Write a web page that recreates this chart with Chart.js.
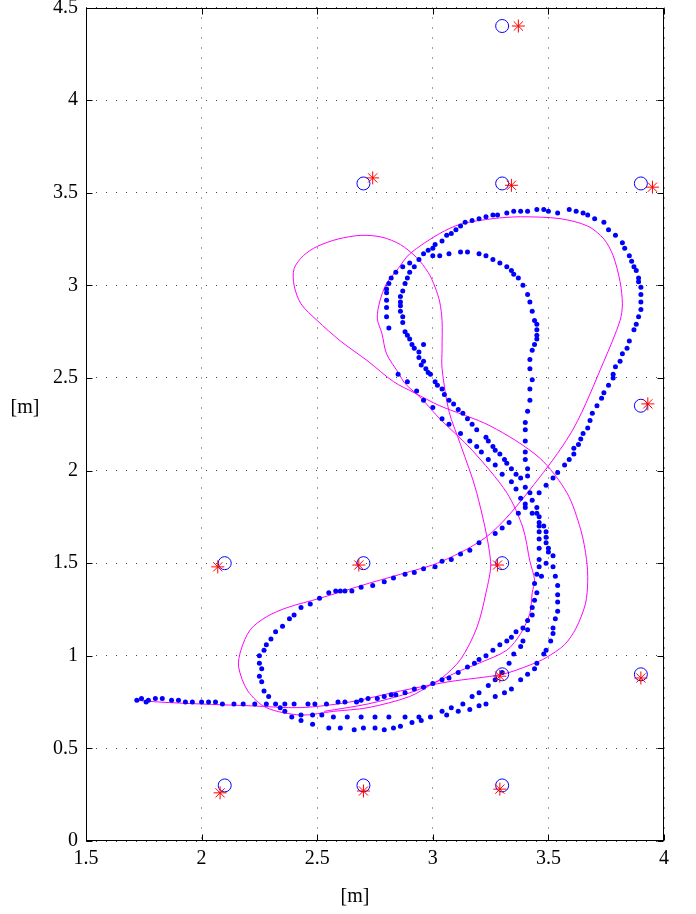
<!DOCTYPE html>
<html>
<head>
<meta charset="utf-8">
<script src="https://cdn.jsdelivr.net/npm/chart.js@4.4.1/dist/chart.umd.min.js"></script>
<style>
  html, body { margin: 0; padding: 0; background: #fff; }
  canvas { display: block; }
</style>
</head>
<body>
<canvas id="chart" width="696" height="914"></canvas>
<script>
/* ============ anchors, estimates and the tracked path ============ */

const xTicks = [1.5, 2, 2.5, 3, 3.5, 4];
const yTicks = [0, 0.5, 1, 1.5, 2, 2.5, 3, 3.5, 4, 4.5];
const axisTitle = '[m]';

// true anchor positions (blue circles)
const anchors = [
    [2.1, 0.3], [2.7, 0.3], [3.3, 0.3],
    [2.1, 1.5], [2.7, 1.5], [3.3, 1.5],
    [3.3, 0.9], [3.9, 0.9], [3.9, 2.35],
    [2.7, 3.55], [3.3, 3.55], [3.9, 3.55], [3.3, 4.4]
];

// estimated anchor positions (red stars)
const estimates = [
    [2.08, 0.26], [2.70, 0.27], [3.29, 0.28],
    [2.07, 1.48], [2.68, 1.49], [3.28, 1.49],
    [3.29, 0.89], [3.90, 0.88], [3.93, 2.36],
    [2.74, 3.58], [3.34, 3.54], [3.95, 3.53], [3.37, 4.40]
];

// measured positions (blue dots)
const trackDots = [
    // start row
    [1.72,0.76],[1.74,0.77],[1.76,0.75],[1.77,0.76],[1.80,0.77],[1.83,0.77],[1.87,0.76],[1.90,0.76],
    [1.93,0.75],[1.96,0.75],[2.00,0.75],[2.03,0.75],[2.06,0.75],[2.09,0.74],[2.14,0.74],[2.18,0.74],
    [2.23,0.74],[2.28,0.74],[2.32,0.74],[2.36,0.74],[2.40,0.74],[2.46,0.74],[2.49,0.74],
    [2.54,0.74],[2.59,0.75],[2.62,0.75],[2.67,0.75],[2.69,0.76],[2.72,0.77],[2.76,0.77],[2.79,0.78],
    [2.82,0.79],[2.84,0.79],[2.88,0.80],[2.92,0.82],[2.96,0.83],[3.00,0.85],[3.04,0.87],[3.07,0.88],
    [3.11,0.91],[3.15,0.94],[3.18,0.96],[3.20,0.98],[3.23,1.00],[3.26,1.03],[3.29,1.06],[3.32,1.08],
    [3.34,1.10],[3.36,1.13],[3.39,1.15],[3.41,1.19],[3.43,1.22],[3.43,1.26],[3.44,1.30],[3.45,1.34],
    [3.44,1.39],[3.45,1.44],[3.47,1.43],[3.46,1.48],[3.49,1.50],
    // lower left loop
    [2.47,1.28],[2.43,1.26],[2.40,1.22],[2.38,1.20],[2.35,1.16],[2.32,1.13],[2.30,1.09],[2.28,1.06],
    [2.27,1.03],[2.25,1.00],[2.25,0.96],[2.26,0.93],[2.25,0.89],[2.26,0.86],[2.27,0.81],[2.29,0.78],
    [2.34,0.72],[2.36,0.70],[2.39,0.67],[2.43,0.65],[2.48,0.63],[2.43,0.68],[2.48,0.68],
    // long diagonal and outer right loop
    [2.51,1.31],[2.55,1.34],[2.58,1.35],[2.60,1.35],[2.62,1.35],[2.65,1.35],[2.69,1.37],[2.74,1.38],
    [2.79,1.40],[2.83,1.42],[2.88,1.44],[2.92,1.45],[2.96,1.47],[3.01,1.48],[3.04,1.51],[3.08,1.52],
    [3.12,1.55],[3.16,1.57],[3.20,1.61],[3.27,1.66],[3.30,1.69],[3.33,1.72],[3.37,1.77],[3.40,1.80],
    [3.43,1.84],[3.46,1.88],[3.49,1.92],[3.52,1.96],[3.54,1.99],[3.57,2.03],[3.59,2.06],[3.61,2.09],
    [3.61,2.12],[3.63,2.14],[3.64,2.17],[3.65,2.20],[3.67,2.23],[3.68,2.27],[3.69,2.31],[3.71,2.35],
    [3.73,2.39],[3.74,2.42],[3.76,2.46],[3.78,2.50],[3.78,2.52],[3.79,2.56],[3.81,2.59],[3.82,2.63],
    [3.84,2.66],[3.85,2.70],[3.87,2.76],[3.88,2.79],[3.89,2.83],[3.90,2.87],[3.90,2.91],[3.90,2.95],
    [3.90,2.99],[3.89,3.02],[3.89,3.04],[3.88,3.08],[3.87,3.10],[3.86,3.13],[3.85,3.16],[3.83,3.20],
    [3.82,3.23],[3.79,3.27],[3.76,3.30],[3.74,3.34],[3.70,3.36],[3.67,3.38],[3.65,3.39],[3.62,3.40],
    [3.59,3.41],[3.54,3.39],[3.50,3.40],[3.48,3.41],[3.45,3.41],[3.41,3.40],[3.38,3.40],[3.35,3.40],
    [3.32,3.39],[3.28,3.38],[3.26,3.38],[3.23,3.37],[3.20,3.36],[3.17,3.35],[3.14,3.34],[3.12,3.32],
    [3.10,3.30],[3.08,3.28],[3.06,3.27],[3.04,3.24],[3.01,3.22],[3.00,3.20],[2.98,3.19],[2.96,3.17],
    [2.90,3.12],[2.87,3.10],[2.84,3.07],[2.82,3.04],[2.81,3.01],[2.80,2.98],[2.80,2.96],[2.80,2.92],
    [2.80,2.88],[2.80,2.83],[2.81,2.77],
    // inner loop
    [3.43,2.49],[3.42,2.55],[3.42,2.60],[3.43,2.65],[3.44,2.68],[3.45,2.71],[3.45,2.73],[3.45,2.76],
    [3.45,2.79],[3.44,2.81],[3.43,2.86],[3.42,2.91],[3.41,2.95],[3.39,3.00],[3.37,3.04],[3.35,3.06],
    [3.34,3.08],[3.32,3.10],[3.29,3.12],[3.26,3.14],[3.23,3.16],[3.20,3.17],[3.15,3.18],[3.12,3.18],
    [3.07,3.17],[3.03,3.16],[3.00,3.16],[2.94,3.14],[2.92,3.10],[2.90,3.07],[2.89,3.04],[2.88,3.01],
    [2.87,2.97],[2.86,2.94],[2.86,2.91],[2.86,2.89],[2.86,2.86],[2.87,2.83],[2.87,2.80],[2.88,2.75],
    [2.89,2.73],[2.90,2.71],[2.91,2.68],[2.92,2.66],[2.94,2.64],[2.94,2.61],[2.96,2.59],[2.95,2.57],
    [2.97,2.55],[2.98,2.53],[2.99,2.52],[3.01,2.48],[3.02,2.46],[3.04,2.44],[3.05,2.41],[3.07,2.38],
    [3.09,2.36],[3.11,2.33],[3.13,2.31],[3.15,2.28],[3.17,2.25],[3.19,2.22],[3.23,2.18],[3.24,2.16],
    [3.26,2.13],[3.27,2.11],[3.29,2.09],[3.31,2.06],[3.32,2.04],[3.34,2.01],[3.36,1.98],[3.38,1.96],
    [3.40,1.91],[3.42,1.88],
    [2.96,2.68],[2.85,2.52],
    // second diagonal
    [2.89,2.48],[2.93,2.43],[2.96,2.38],[3.00,2.34],[3.04,2.28],[3.07,2.25],[3.12,2.20],[3.16,2.16],
    [3.19,2.13],[3.21,2.10],[3.24,2.06],[3.27,2.03],[3.30,1.98],[3.34,1.94],[3.36,1.90],[3.38,1.85],
    // central column
    [3.42,2.44],[3.42,2.38],[3.41,2.32],[3.40,2.26],[3.40,2.22],[3.40,2.16],[3.40,2.10],[3.40,2.06],
    [3.41,2.01],[3.41,1.97],[3.40,1.82],[3.45,1.80],[3.43,1.77],[3.45,1.77],[3.46,1.75],[3.46,1.72],
    [3.46,1.70],[3.48,1.70],[3.46,1.67],[3.49,1.67],[3.49,1.64],[3.46,1.63],[3.49,1.61],[3.50,1.58],
    [3.46,1.58],[3.50,1.56],[3.52,1.54],[3.46,1.52],
    // right column
    [3.52,1.48],[3.53,1.43],[3.54,1.38],[3.54,1.33],[3.54,1.29],[3.54,1.24],[3.53,1.20],[3.52,1.15],
    [3.52,1.12],[3.51,1.08],[3.49,1.03],[3.48,1.01],[3.45,0.96],[3.44,0.93],[3.41,0.90],[3.38,0.87],
    [3.34,0.82],[3.31,0.80],[3.27,0.78],[3.23,0.74],[3.20,0.73],[3.16,0.71],[3.11,0.70],[3.06,0.68],
    // middle column
    [3.41,1.14],[3.39,1.08],[3.38,1.05],[3.35,1.01],[3.33,0.96],[3.30,0.91],[3.27,0.87],[3.24,0.84],
    [3.20,0.80],[3.17,0.78],[3.13,0.74],[3.08,0.72],[3.04,0.70],
    // bottom rows
    [2.52,0.68],[2.57,0.67],[2.63,0.67],[2.69,0.67],[2.75,0.67],[2.81,0.67],[2.88,0.67],[2.94,0.67],
    [2.99,0.67],
    [2.55,0.61],[2.60,0.61],[2.66,0.60],[2.70,0.61],[2.75,0.61],[2.79,0.60],[2.83,0.61],[2.86,0.62],
    [2.91,0.64],[2.95,0.65]
];

// smoothed path (magenta line), in travel order
const smoothPath = [
    [1.71,0.76],[1.82,0.75],[1.99,0.74],[2.21,0.73],[2.43,0.72],[2.64,0.75],[2.86,0.81],[3.07,0.86],
    [3.30,0.90],[3.42,0.95],[3.49,0.99],[3.57,1.06],[3.62,1.15],[3.66,1.28],[3.67,1.40],[3.665,1.52],
    [3.64,1.68],[3.58,1.88],[3.46,2.07],[3.25,2.24],[3.03,2.35],[2.92,2.42],[2.83,2.48],[2.72,2.59],
    [2.60,2.70],[2.50,2.81],[2.43,2.90],[2.40,3.00],[2.40,3.09],[2.44,3.16],[2.50,3.21],[2.59,3.25],
    [2.69,3.27],[2.78,3.26],[2.86,3.22],[2.93,3.15],[2.98,3.07],[3.01,2.99],[3.03,2.91],
    [3.04,2.81],[3.04,2.66],[3.04,2.55],[3.07,2.32],[3.12,2.14],[3.19,1.88],[3.25,1.51],[3.23,1.34],
    [3.19,1.15],[3.12,0.98],[3.04,0.88],[3.00,0.85],[2.90,0.78],[2.72,0.72],[2.57,0.70],[2.43,0.68],
    [2.28,0.72],[2.20,0.81],[2.16,0.94],[2.17,1.03],[2.21,1.14],[2.28,1.21],[2.37,1.26],[2.51,1.31],
    [2.72,1.39],[2.86,1.44],[3.04,1.51],[3.25,1.66],[3.46,1.96],[3.61,2.23],[3.74,2.59],[3.81,2.81],
    [3.82,2.90],[3.81,3.02],[3.78,3.16],[3.74,3.25],[3.67,3.32],[3.55,3.36],[3.38,3.37],[3.26,3.36],
    [3.12,3.33],[3.03,3.28],[2.90,3.17],[2.85,3.09],[2.80,3.01],[2.77,2.91],[2.76,2.82],[2.78,2.74],
    [2.80,2.63],[2.85,2.53],[2.88,2.47],[2.95,2.39],[3.03,2.28],[3.17,2.11],[3.32,1.88],[3.39,1.69],
    [3.42,1.51],[3.44,1.41],[3.43,1.34],[3.42,1.23],[3.38,1.12],[3.32,1.03],[3.20,0.96],[3.12,0.92],
    [3.00,0.85],[2.90,0.80],[2.72,0.74],[2.53,0.70]
];

const toPoints = arr => arr.map(p => ({ x: p[0], y: p[1] }));

const serif = '"Liberation Serif", "DejaVu Serif", serif';

// box, inward ticks and axis titles (MATLAB look)
const framePlugin = {
    id: 'frame',
    afterDraw(chart) {
        const { ctx, chartArea: a, scales } = chart;
        const L = Math.round(a.left) + 0.5, R = Math.round(a.right) - 0.5;
        const T = Math.round(a.top) + 0.5, B = Math.round(a.bottom) - 0.5;
        ctx.save();
        ctx.strokeStyle = '#000';
        ctx.lineWidth = 1;
        ctx.strokeRect(L, T, R - L, B - T);
        ctx.beginPath();
        xTicks.forEach(v => {
            const px = Math.round(scales.x.getPixelForValue(v)) + 0.5;
            ctx.moveTo(px, B); ctx.lineTo(px, B - 6);
            ctx.moveTo(px, T); ctx.lineTo(px, T + 6);
        });
        yTicks.forEach(v => {
            const py = Math.round(scales.y.getPixelForValue(v)) + 0.5;
            ctx.moveTo(L, py); ctx.lineTo(L + 6, py);
            ctx.moveTo(R, py); ctx.lineTo(R - 6, py);
        });
        ctx.stroke();

        ctx.fillStyle = '#000';
        ctx.font = '20px ' + serif;
        ctx.textAlign = 'center';
        ctx.textBaseline = 'middle';
        ctx.fillText(axisTitle, 25, 408);
        ctx.fillText(axisTitle, (a.left + a.right) / 2 - 20, 897);
        ctx.restore();
    }
};

const tickFont = { family: serif, size: 20 };

new Chart(document.getElementById('chart'), {
    type: 'scatter',
    data: {
        datasets: [
            {
                label: 'estimates',
                data: toPoints(estimates),
                pointStyle: 'star',
                pointRadius: 6.5,
                borderColor: '#ff0000',
                backgroundColor: '#ff0000',
                borderWidth: 1,
                order: 0
            },
            {
                label: 'anchors',
                data: toPoints(anchors),
                pointStyle: 'circle',
                pointRadius: 6.5,
                borderColor: '#0000ff',
                backgroundColor: 'rgba(0,0,0,0)',
                borderWidth: 1,
                order: 1
            },
            {
                label: 'measured',
                data: toPoints(trackDots),
                pointStyle: 'circle',
                pointRadius: 2.5,
                borderWidth: 0,
                backgroundColor: '#0000ff',
                order: 2
            },
            {
                label: 'smoothed',
                data: toPoints(smoothPath),
                showLine: true,
                pointRadius: 0,
                borderColor: '#ff00ff',
                borderWidth: 1,
                tension: 0.3,
                order: 3
            }
        ]
    },
    options: {
        responsive: false,
        animation: false,
        devicePixelRatio: 1,
        layout: { padding: { left: 0, right: 32, top: 6, bottom: 0 } },
        plugins: { legend: { display: false }, tooltip: { enabled: false } },
        scales: {
            x: {
                type: 'linear',
                min: 1.5, max: 4,
                afterFit: s => { s.height = 73; s.paddingLeft = 0; s.paddingRight = 0; },
                afterBuildTicks: s => { s.ticks = xTicks.map(v => ({ value: v })); },
                ticks: { color: '#000', font: tickFont, padding: 6, maxRotation: 0,
                         callback: v => String(v) },
                grid: { color: '#444', lineWidth: 1, drawTicks: false },
                border: { display: false, dash: [1, 9] }
            },
            y: {
                type: 'linear',
                min: 0, max: 4.5,
                afterFit: s => { s.width = 86; s.paddingTop = 0; s.paddingBottom = 0; },
                afterBuildTicks: s => { s.ticks = yTicks.map(v => ({ value: v })); },
                ticks: { color: '#000', font: tickFont, padding: 8,
                         callback: v => String(v) },
                grid: { color: '#444', lineWidth: 1, drawTicks: false },
                border: { display: false, dash: [1, 9] }
            }
        }
    },
    plugins: [framePlugin]
});
</script>
</body>
</html>
